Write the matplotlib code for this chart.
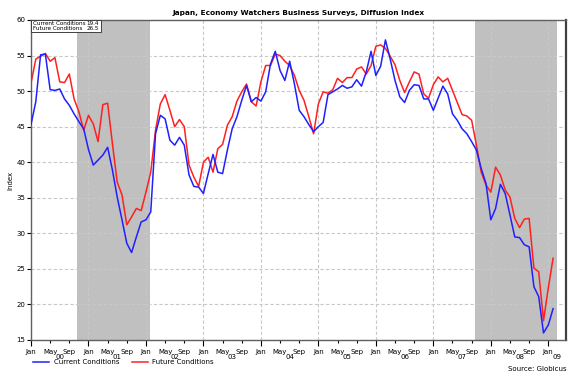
import numpy as np
import matplotlib
matplotlib.use('Agg')
import matplotlib.pyplot as plt
from matplotlib.lines import Line2D
from matplotlib.patches import Rectangle
from matplotlib.transforms import blended_transform_factory

# %% data: monthly, Jan 2000 .. Feb 2009
current = [45.3, 48.5, 55.1, 55.2, 50.2, 50.1, 50.3, 48.9, 48.0, 46.8, 45.7, 44.7,
           41.8, 39.6, 40.3, 41.0, 42.1, 38.9, 35.1, 31.9, 28.6, 27.3, 29.5, 31.6,
           31.9, 33.0, 44.0, 46.6, 46.1, 43.1, 42.4, 43.5, 42.4, 38.2, 36.6, 36.5,
           35.6, 38.4, 41.1, 38.6, 38.4, 41.7, 44.7, 46.4, 48.7, 50.8, 48.5, 49.1,
           48.6, 49.9, 53.8, 55.6, 52.9, 51.5, 54.2, 51.0, 47.3, 46.4, 45.3, 44.3,
           45.0, 45.6, 49.5, 49.9, 50.3, 50.8, 50.4, 50.6, 51.6, 50.7, 52.7, 55.6,
           52.2, 53.5, 57.2, 54.5, 51.5, 49.2, 48.4, 50.1, 50.9, 50.8, 48.9, 48.9,
           47.3, 49.0, 50.7, 49.6, 46.8, 45.9, 44.7, 44.0, 42.9, 41.7, 39.1, 37.0,
           31.9, 33.5, 36.9, 35.6, 32.6, 29.5, 29.4, 28.4, 28.1, 22.5, 21.1, 16.0,
           17.1, 19.4]
future = [51.1, 54.5, 54.9, 55.3, 54.2, 54.7, 51.3, 51.2, 52.4, 48.9, 47.1, 44.5,
          46.6, 45.4, 42.9, 48.1, 48.3, 42.6, 37.2, 35.4, 31.2, 32.3, 33.5, 33.2,
          35.8, 38.6, 44.5, 48.2, 49.5, 47.3, 45.0, 46.0, 45.0, 39.6, 37.9, 36.6,
          40.0, 40.7, 38.6, 41.9, 42.5, 45.2, 46.4, 48.6, 49.9, 51.0, 48.5, 47.9,
          51.3, 53.6, 53.6, 55.2, 55.0, 54.2, 53.6, 52.2, 50.1, 48.7, 46.4, 44.0,
          48.2, 49.9, 49.7, 50.2, 51.8, 51.2, 51.9, 51.9, 53.1, 53.4, 52.4, 53.6,
          56.3, 56.5, 56.0, 54.9, 53.7, 51.5, 49.8, 51.3, 52.7, 52.4, 49.6, 49.0,
          50.9, 52.0, 51.3, 51.8, 50.1, 48.4, 46.7, 46.5, 45.9, 42.4, 38.6, 36.8,
          35.8, 39.3, 38.2, 36.1, 35.1, 32.1, 30.8, 32.0, 32.1, 25.1, 24.6, 17.7,
          22.3, 26.5]
years = ['00', '01', '02', '03', '04', '05', '06', '07', '08', '09']
month_names = ['Jan', 'May', 'Sep']
# shaded periods, in months since Jan 2000
recessions = [(9.7, 24.8), (92.8, 109.9)]

months = np.arange(len(current))
xmax = 111.7
fs = 5

# %%
fig = plt.figure(figsize=(5.8, 3.81), dpi=100)
ax = fig.add_axes([31/580, 41/381, 535/580, 320/381])

for a, b in recessions:
    ax.axvspan(a, b, color='#c0c0c0', lw=0, zorder=0)

ax.plot(months, current, color='#2020ff', lw=1.1, zorder=3)
ax.plot(months, future, color='#ff2020', lw=1.1, zorder=2)

ax.set_xlim(0, xmax)
ax.set_ylim(15, 60)
ax.set_yticks(np.arange(15, 61, 5))
ax.tick_params(axis='y', labelsize=fs, length=3, width=0.8, pad=1)

jan = list(range(0, int(xmax) + 1, 12))
mid = [m for m in range(0, int(xmax) + 1, 4) if m % 12]
ax.set_xticks(jan)
ax.set_xticklabels(['Jan'] * len(jan))
ax.set_xticks(mid, minor=True)
ax.set_xticklabels([month_names[(m % 12) // 4] for m in mid], minor=True)
ax.tick_params(axis='x', which='major', labelsize=fs, length=4, width=0.8, pad=2.5)
ax.tick_params(axis='x', which='minor', labelsize=fs, length=2.5, width=0.8, pad=4)

# year labels under each year
tr = blended_transform_factory(ax.transData, ax.transAxes)
for i, y in enumerate(years):
    x0 = 12 * i
    x1 = min(12 * i + 12, xmax)
    ax.text((x0 + x1) / 2, -0.053, y, transform=tr, ha='center', va='center', fontsize=fs)

ax.grid(axis='y', color='#c8c8c8', ls=(0, (3, 2)), lw=0.8)
ax.grid(axis='x', which='major', color='#c8c8c8', ls=(0, (3, 2)), lw=0.8)
ax.set_axisbelow(True)
for s in ['left', 'top', 'bottom']:
    ax.spines[s].set_color('#606060')
    ax.spines[s].set_linewidth(1.0)
ax.spines['right'].set_color('#404040')
ax.spines['right'].set_linewidth(1.6)

# small value box in the corner
ax.add_patch(Rectangle((0, 0.9625), 0.131, 0.0375, transform=ax.transAxes,
                       facecolor='white', edgecolor='#404040', lw=0.7, zorder=5))
ax.text(0.004, 0.9895, 'Current Conditions', transform=ax.transAxes, fontsize=4.1,
        va='center', zorder=6)
ax.text(0.127, 0.9895, '%.1f' % current[-1], transform=ax.transAxes, fontsize=4.1,
        va='center', ha='right', zorder=6)
ax.text(0.004, 0.9725, 'Future Conditions', transform=ax.transAxes, fontsize=4.1,
        va='center', zorder=6)
ax.text(0.127, 0.9725, '%.1f' % future[-1], transform=ax.transAxes, fontsize=4.1,
        va='center', ha='right', zorder=6)

fig.text(298.5/580, 1 - 12.5/381, 'Japan, Economy Watchers Business Surveys, Diffusion Index',
         ha='center', va='center', fontsize=5.3, fontweight='bold')
fig.text(10/580, 1 - 180/381, 'Index', rotation=90, ha='center', va='center', fontsize=fs)
fig.text(567/580, 1 - 368.7/381, 'Source: Globicus', ha='right', va='center', fontsize=fs)

handles = [Line2D([], [], color='#2020ff', lw=1.1), Line2D([], [], color='#ff2020', lw=1.1)]
fig.legend(handles, ['Current Conditions', 'Future Conditions'], ncol=2,
           loc='center left', bbox_to_anchor=(30/580, 1 - 362.5/381), frameon=False,
           fontsize=fs, borderpad=0, handlelength=2.3, handletextpad=0.7,
           columnspacing=1.7)

fig.savefig('out.png', dpi=100)
